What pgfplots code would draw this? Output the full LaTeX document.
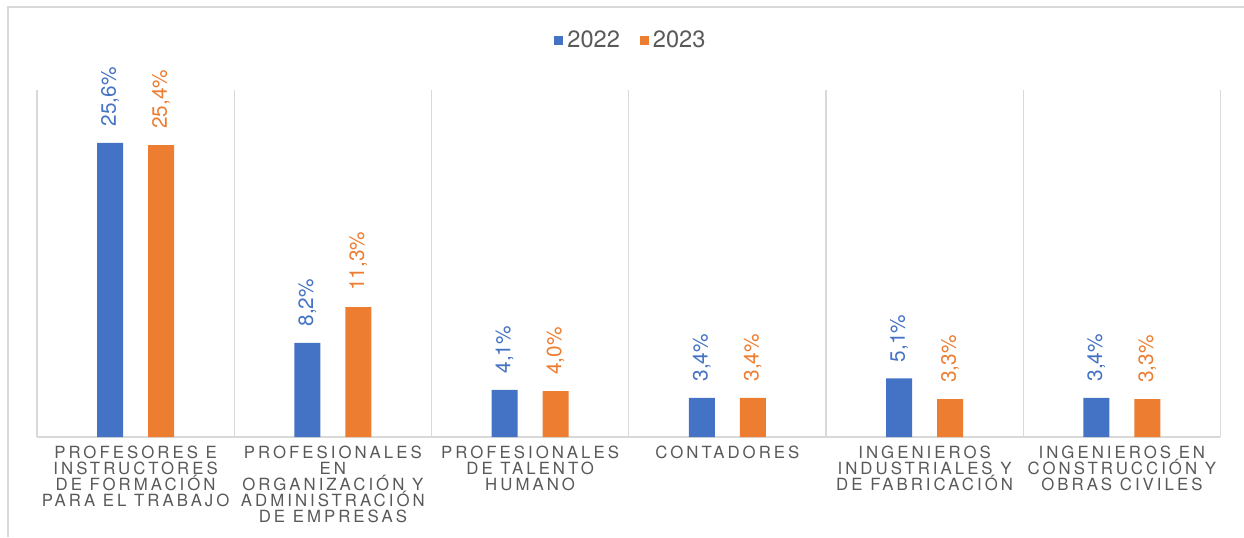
\documentclass[border=0pt]{standalone}
\usepackage{pgfplots}
\pgfplotsset{compat=1.18}
\usepackage{fontspec}
\setmainfont{TeX Gyre Heros}
\newfontfamily\catfont[LetterSpace=18]{TeX Gyre Heros}
\definecolor{cblue}{HTML}{4472C4}
\definecolor{corange}{HTML}{ED7D31}
\definecolor{ctext}{HTML}{595959}
\definecolor{cgrid}{HTML}{D9D9D9}
\begin{document}
\begin{tikzpicture}
\useasboundingbox (0,0) rectangle (622pt,268.5pt);
\draw[cgrid, line width=0.6pt] (4pt,0) -- (4pt,265pt) -- (622pt,265pt);
\begin{axis}[
  at={(18.5pt,50pt)}, anchor=south west,
  scale only axis, width=591.75pt, height=173.5pt,
  ybar=12.5pt, bar width=13pt,
  xmin=-0.5, xmax=5.5, ymin=0, ymax=30.2,
  axis y line=none, axis x line*=bottom,
  x axis line style={cgrid, line width=0.8pt, -},
  xtick={0,...,5},
  xticklabels={{PROFESORES E\\INSTRUCTORES\\DE FORMACIÓN\\PARA EL TRABAJO},
               {PROFESIONALES\\EN\\ORGANIZACIÓN Y\\ADMINISTRACIÓN\\DE EMPRESAS},
               {PROFESIONALES\\DE TALENTO\\HUMANO},
               {CONTADORES},
               {INGENIEROS\\INDUSTRIALES Y\\DE FABRICACIÓN},
               {INGENIEROS EN\\CONSTRUCCIÓN Y\\OBRAS CIVILES}},
  major tick length=0pt,
  minor xtick={-0.5,0.5,...,5.5}, xminorgrids, minor tick length=0pt,
  minor grid style={cgrid, line width=0.7pt},
  xticklabel style={align=center, font=\catfont\fontsize{8.4}{8}\selectfont, text=ctext, anchor=north, inner sep=0pt, yshift=-4.5pt},
  nodes near coords={\pgfmathprintnumber[fixed,fixed zerofill,precision=1,use comma,assume math mode=true]{\pgfplotspointmeta}\%},
  every node near coord/.append style={rotate=90, anchor=west, font=\fontsize{10.4}{11}\selectfont, inner ysep=0pt, inner xsep=8pt},
  legend style={at={(0.5,1)}, anchor=center, xshift=1.6pt, yshift=24.5pt, draw=none, fill=none,
    font=\fontsize{11.8}{12}\selectfont, text=ctext, /tikz/every even column/.append style={column sep=8pt}},
  legend columns=2,
  legend image code/.code={\fill[#1] (0pt,-2.25pt) rectangle (4.5pt,2.25pt);},
]
\addplot[fill=cblue, draw=none, every node near coord/.append style={text=cblue}]
  coordinates {(0,25.6) (1,8.2) (2,4.1) (3,3.4) (4,5.1) (5,3.4)};
\addplot[fill=corange, draw=none, every node near coord/.append style={text=corange}]
  coordinates {(0,25.4) (1,11.3) (2,4.0) (3,3.4) (4,3.3) (5,3.3)};
\legend{2022,2023}
\end{axis}
\end{tikzpicture}
\end{document}
